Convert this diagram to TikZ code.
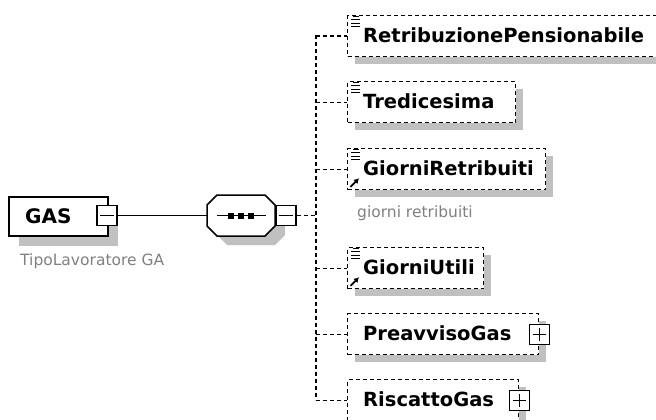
\documentclass[tikz,border=0pt]{standalone}
\usepackage{fontspec}
\newfontfamily\dvfont{DejaVu Sans}
\usetikzlibrary{shadows,arrows.meta}
\definecolor{shadowgray}{RGB}{192,192,192}
\definecolor{labelgray}{RGB}{128,128,128}
\tikzset{
  sqbox/.style={draw, line width=1.3pt, fill=white, minimum size=20pt, inner sep=0pt},
  childbox/.style={draw, line width=1.3pt, dash pattern=on 4pt off 3pt, fill=white, inner sep=0pt,
    anchor=north west, minimum height=41pt,
    drop shadow={shadow xshift=7pt, shadow yshift=-7pt, fill=shadowgray, draw=none, opacity=1}},
  childlabel/.style={font=\dvfont\bfseries\fontsize{19.5}{22}\selectfont, anchor=base west, inner sep=0pt},
  greylabel/.style={font=\dvfont\fontsize{15.5}{18}\selectfont, text=labelgray, anchor=base west, inner sep=0pt},
  dl/.style={line width=1.3pt, dash pattern=on 4pt off 3pt},
  solidline/.style={line width=1.5pt},
  docicon/.pic={\draw[line width=0.9pt] (6,1.5)--(12,1.5) (4,4.8)--(13,4.8) (4,8.1)--(13,8.1) (4,11.4)--(13,11.4);},
  refarrow/.pic={\draw[line width=1.8pt, -{Latex[length=5pt,width=6pt]}] (3.5,-3.5) -- (12,-12);}
}
\begin{document}
\begin{tikzpicture}[x=1pt,y=-1pt]
\useasboundingbox (0,0) rectangle (656,420);
\clip (0,0) rectangle (656,420);

% root element
\node[draw, line width=1.5pt, fill=white, minimum width=99pt, minimum height=39pt, anchor=north west, inner sep=0pt,
  drop shadow={shadow xshift=10pt, shadow yshift=-10pt, fill=shadowgray, draw=none, opacity=1}] (gas) at (8,196) {};
\node[childlabel, font=\dvfont\bfseries\fontsize{20}{22}\selectfont] (gaslab) at (25,223) {GAS};
\node[sqbox] (gasminus) at (107,215.5) {};
\draw[line width=1.3pt] ([xshift=4pt]gasminus.west) -- ([xshift=-4pt]gasminus.east);
\node[greylabel] (gastype) at (20,265) {TipoLavoratore GA};

% sequence compositor
\fill[shadowgray] (217,215) -- (227,205) -- (275,205) -- (285,215) -- (285,235) -- (275,245) -- (227,245) -- (217,235) -- cycle;
\draw[solidline, fill=white] (207,205) -- (217,195) -- (265,195) -- (275,205) -- (275,226) -- (265,236) -- (217,236) -- (207,226) -- cycle;
\node[minimum width=68pt, minimum height=41pt, inner sep=0pt] (seq) at (241,215.5) {};
\draw[solidline] (217,215.5) -- (266,215.5);
\fill (228,212.5) rectangle (234,218.5);
\fill (238,212.5) rectangle (244,218.5);
\fill (248,212.5) rectangle (254,218.5);
\node[sqbox] (seqminus) at (286,215.5) {};
\draw[line width=1.3pt] ([xshift=4pt]seqminus.west) -- ([xshift=-4pt]seqminus.east);

\draw[solidline] (gasminus.east) -- (seq.west);

% children
\node[childbox, minimum width=330pt] (retri) at (347,15) {};
\node[childlabel] (retrilab) at (363,42.5) {RetribuzionePensionabile};
\pic at (retri.north west) {docicon};

\node[childbox, minimum width=168pt] (tred) at (347,81) {};
\node[childlabel] (tredlab) at (363,108.5) {Tredicesima};
\pic at (tred.north west) {docicon};

\node[childbox, minimum width=198pt] (gret) at (347,148) {};
\node[childlabel] (gretlab) at (363,175.5) {GiorniRetribuiti};
\pic at (gret.north west) {docicon};
\pic at (gret.south west) {refarrow};
\node[greylabel] (gretdoc) at (357,217.5) {giorni retribuiti};

\node[childbox, minimum width=136pt] (gut) at (347,247) {};
\node[childlabel] (gutlab) at (363,274.5) {GiorniUtili};
\pic at (gut.north west) {docicon};
\pic at (gut.south west) {refarrow};

\node[childbox, minimum width=191pt] (prea) at (347,313) {};
\node[childlabel] (prealab) at (363,340.5) {PreavvisoGas};
\node[sqbox] (preaplus) at (prea.east) {};
\draw[line width=1.3pt] ([xshift=4pt]preaplus.west) -- ([xshift=-4pt]preaplus.east)
  ([yshift=4pt]preaplus.south) -- ([yshift=-4pt]preaplus.north);

\node[childbox, minimum width=171pt] (risc) at (347,379) {};
\node[childlabel] (risclab) at (363,406.5) {RiscattoGas};
\node[sqbox] (riscplus) at (risc.east) {};
\draw[line width=1.3pt] ([xshift=4pt]riscplus.west) -- ([xshift=-4pt]riscplus.east)
  ([yshift=4pt]riscplus.south) -- ([yshift=-4pt]riscplus.north);

% connectors
\coordinate (vtop) at (316,35.5);
\coordinate (vbot) at (316,399.5);
\draw[dl] (vtop) -- (vbot);
\draw[dl] (seqminus.east) -- (seqminus.east -| vtop);
\draw[dl] (vtop |- retri.west) -- (retri.west);
\draw[dl] (vtop |- tred.west) -- (tred.west);
\draw[dl] (vtop |- gret.west) -- (gret.west);
\draw[dl] (vtop |- gut.west) -- (gut.west);
\draw[dl] (vtop |- prea.west) -- (prea.west);
\draw[dl] (vtop |- risc.west) -- (risc.west);
\end{tikzpicture}
\end{document}
